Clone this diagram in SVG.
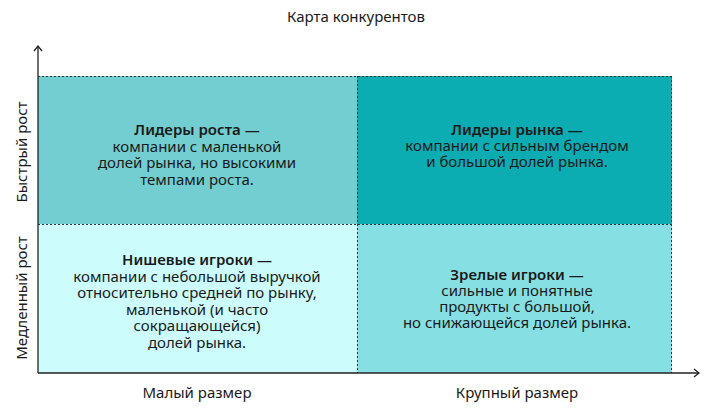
<svg xmlns="http://www.w3.org/2000/svg" width="709" height="408" viewBox="0 0 709 408">
<style>
text{font-family:"Noto Sans","Open Sans",sans-serif;font-size:15px;fill:#1a1a1a;text-anchor:middle}
.b{font-weight:600}
.dot{stroke:#333;stroke-width:1;stroke-dasharray:2 2;fill:none}
.axis{stroke:#222;stroke-width:1.3;fill:none}
</style>
<defs>
<marker id="ah" markerWidth="10" markerHeight="10" refX="8" refY="5" orient="auto" markerUnits="userSpaceOnUse">
<path d="M3,1 L8,5 L3,9" fill="none" stroke="#222" stroke-width="1.3"/>
</marker>
</defs>
<rect width="709" height="408" fill="#fff"/>
<text x="356" y="22">Карта конкурентов</text>
<g id="q-tl"><rect x="38" y="76" width="319" height="148" fill="#72CED0"/>
<text x="197" y="135" class="b">Лидеры роста —</text>
<text x="197" y="151.5">компании с маленькой</text>
<text x="197" y="168">долей рынка, но высокими</text>
<text x="197" y="184.5">темпами роста.</text></g>
<g id="q-tr"><rect x="357" y="76" width="315" height="148" fill="#0BACB2"/>
<text x="517" y="135" class="b">Лидеры рынка —</text>
<text x="517" y="151">компании с сильным брендом</text>
<text x="517" y="167">и большой долей рынка.</text></g>
<g id="q-bl"><rect x="38" y="224" width="319" height="149" fill="#CCFCFC"/>
<text x="197" y="265" class="b">Нишевые игроки —</text>
<text x="197" y="281.6">компании с небольшой выручкой</text>
<text x="197" y="298.2">относительно средней по рынку,</text>
<text x="197" y="314.8">маленькой (и часто</text>
<text x="197" y="331.4">сокращающейся)</text>
<text x="197" y="348">долей рынка.</text></g>
<g id="q-br"><rect x="357" y="224" width="315" height="149" fill="#86E0E3"/>
<text x="517" y="280" class="b">Зрелые игроки —</text>
<text x="517" y="296">сильные и понятные</text>
<text x="517" y="312">продукты с большой,</text>
<text x="517" y="328">но снижающейся долей рынка.</text></g>
<g id="connectors">
<path class="dot" d="M38,76.5 H672 M38,224.5 H672 M357.5,76 V373 M671.5,76 V373"/>
<path class="axis" d="M38,373 V46" marker-end="url(#ah)"/>
<path class="axis" d="M38,373 H699" marker-end="url(#ah)"/>
</g>
<text x="197" y="398">Малый размер</text>
<text x="517" y="398">Крупный размер</text>
<text transform="translate(27,152) rotate(-90)">Быстрый рост</text>
<text transform="translate(27,298) rotate(-90)">Медленный рост</text>
</svg>
